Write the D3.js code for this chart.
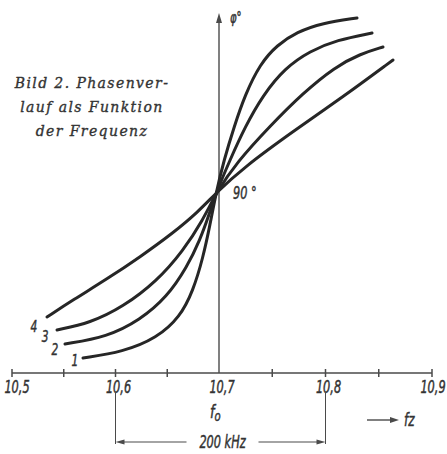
<!DOCTYPE html>
<html>
<head>
<meta charset="utf-8">
<script src="https://cdn.jsdelivr.net/npm/d3@7"></script>
<style>
  body { margin: 0; background: #fff; }
  svg { display: block; }
  .num { font-family: "DejaVu Sans Condensed", "DejaVu Sans", sans-serif; font-style: italic; fill: #333; stroke: #333; stroke-width: 0.45px; }
  .cap { font-family: "DejaVu Serif", serif; font-style: italic; fill: #333; stroke: #333; stroke-width: 0.35px; letter-spacing: 1.4px; }
</style>
</head>
<body>
<svg id="chart" width="447" height="454"></svg>
<script>
// frequency (MHz) vs phase (degrees)
var curve1 = [[10.5686,7.5],[10.6072,10.5],[10.6401,17.5],[10.6623,28],[10.6749,41],[10.6845,57.5],[10.6913,74],[10.6971,90],
              [10.7047,106.5],[10.7141,123],[10.7244,139],[10.7385,154.5],[10.7545,164],[10.7732,170.5],[10.7967,175],[10.8296,177.5]];
var curve2 = [[10.5512,14.5],[10.5918,18],[10.6237,26.5],[10.6498,38],[10.6691,53],[10.6816,66.5],[10.6903,79],[10.6971,90],
              [10.7103,106.5],[10.7244,123],[10.7413,139],[10.762,152.5],[10.7854,161],[10.8108,166.5],[10.8437,170]];
var curve3 = [[10.5435,21.5],[10.5754,25],[10.6072,33],[10.6401,46],[10.6652,61],[10.6845,76.5],[10.6971,90],
              [10.7169,105.5],[10.7479,123.5],[10.7789,140],[10.8089,153],[10.8324,159.5],[10.854,163]];
var curve4 = [[10.5338,28],[10.5589,36.5],[10.5918,47],[10.6237,58],[10.6556,70],[10.6797,80.5],[10.6971,90],
              [10.7225,102.5],[10.7714,121.5],[10.8164,138],[10.8634,156.5]];
var curves = [curve1, curve2, curve3, curve4];
var curveNames = ["1", "2", "3", "4"];

var majorTicks = [10.5, 10.6, 10.7, 10.8, 10.9];
var minorTicks = [10.55, 10.65, 10.75, 10.85];
var tickLabels = ["10,5", "10,6", "10,7", "10,8", "10,9"];
var bandEdges = [10.6, 10.8];
var bandLabel = "200 kHz";
var caption = ["Bild 2. Phasenver-", "lauf  als  Funktion", "der Frequenz"];

var svg = d3.select("#chart");
var ink = "#262626";
var axisInk = "#4a4a4a";

// hand drawn axis: left half a bit tighter than right half
var x = d3.scaleLinear().domain([10.5, 10.7, 10.9]).range([12, 219, 432]);
var y = d3.scaleLinear().domain([0, 180]).range([373, 13]);

// narrow italic lettering like the original
function narrowText(g, px, py, size, str, anchor) {
  return g.append("text")
    .attr("class", "num")
    .attr("transform", "translate(" + px + "," + py + ") scale(0.74,1)")
    .attr("text-anchor", anchor || "middle")
    .attr("font-size", size)
    .text(str);
}

// x axis
var axisY = y(0);
svg.append("line")
  .attr("x1", x(10.5)).attr("x2", x(10.9))
  .attr("y1", axisY).attr("y2", axisY)
  .attr("stroke", axisInk).attr("stroke-width", 1.6);

svg.selectAll(".tick")
  .data(majorTicks.concat(minorTicks).filter(function(d) { return d != 10.7; }))
  .enter().append("line")
  .attr("x1", function(d) { return x(d); })
  .attr("x2", function(d) { return x(d); })
  .attr("y1", axisY - 4).attr("y2", axisY + 4)
  .attr("stroke", axisInk).attr("stroke-width", 1.5);

majorTicks.forEach(function(d, i) {
  var px = Math.max(x(d) + 3, 17);
  px = Math.min(px, 433);
  narrowText(svg, px, axisY + 20, 17, tickLabels[i]);
});

// y axis with arrow
svg.append("line")
  .attr("x1", x(10.7)).attr("x2", x(10.7))
  .attr("y1", axisY).attr("y2", y(180) + 6)
  .attr("stroke", axisInk).attr("stroke-width", 1.4);
svg.append("path")
  .attr("d", "M" + x(10.7) + "," + y(180) + " l-3,10 l6,0 z")
  .attr("fill", axisInk);

narrowText(svg, x(10.7) + 11, y(180) + 10, 15, "φ°", "start");
narrowText(svg, x(10.7) + 14, y(90) + 6, 17, "90 °", "start");

// curves
var line = d3.line()
  .x(function(d) { return x(d[0]); })
  .y(function(d) { return y(d[1]); })
  .curve(d3.curveBasis);

svg.selectAll(".curve")
  .data(curves)
  .enter().append("path")
  .attr("d", line)
  .attr("fill", "none")
  .attr("stroke", ink)
  .attr("stroke-width", 3)
  .attr("stroke-linecap", "round");

var labelOffsets = [[-8, 8], [-10, 11], [-12, 12], [-13, 15]];
curves.forEach(function(c, i) {
  narrowText(svg, x(c[0][0]) + labelOffsets[i][0], y(c[0][1]) + labelOffsets[i][1], 16, curveNames[i]);
});

// caption
svg.selectAll(".cap")
  .data(caption)
  .enter().append("text")
  .attr("class", "cap")
  .attr("x", 92)
  .attr("y", function(d, i) { return 88 + i * 24; })
  .attr("text-anchor", "middle")
  .attr("font-size", 14)
  .text(function(d) { return d; });

// f0 and fz
var f0 = svg.append("text").attr("class", "num")
  .attr("transform", "translate(" + (x(10.7) - 9) + "," + (axisY + 45) + ") scale(0.8,1)")
  .attr("font-size", 18);
f0.append("tspan").text("f");
f0.append("tspan").attr("dy", 3).attr("font-size", 14).text("o");

svg.append("line")
  .attr("x1", 367).attr("x2", 392)
  .attr("y1", axisY + 47).attr("y2", axisY + 47)
  .attr("stroke", axisInk).attr("stroke-width", 1.4);
svg.append("path")
  .attr("d", "M399," + (axisY + 47) + " l-9,-3 l0,6 z")
  .attr("fill", axisInk);
narrowText(svg, 404, axisY + 53, 18, "fz", "start");

// 200 kHz band
var bandY = axisY + 69;
svg.selectAll(".edge")
  .data(bandEdges)
  .enter().append("line")
  .attr("x1", function(d) { return x(d); })
  .attr("x2", function(d) { return x(d); })
  .attr("y1", axisY + 19).attr("y2", bandY + 2)
  .attr("stroke", axisInk).attr("stroke-width", 1);

var mid = (x(bandEdges[0]) + x(bandEdges[1])) / 2 + 2;
svg.append("line")
  .attr("x1", x(bandEdges[0]) + 6).attr("x2", mid - 36)
  .attr("y1", bandY).attr("y2", bandY)
  .attr("stroke", axisInk).attr("stroke-width", 1.2);
svg.append("line")
  .attr("x1", mid + 36).attr("x2", x(bandEdges[1]) - 6)
  .attr("y1", bandY).attr("y2", bandY)
  .attr("stroke", axisInk).attr("stroke-width", 1.2);
svg.append("path")
  .attr("d", "M" + x(bandEdges[0]) + "," + bandY + " l9,-2.5 l0,5 z")
  .attr("fill", axisInk);
svg.append("path")
  .attr("d", "M" + x(bandEdges[1]) + "," + bandY + " l-9,-2.5 l0,5 z")
  .attr("fill", axisInk);
narrowText(svg, mid, bandY + 6, 17, bandLabel);
</script>
</body>
</html>
